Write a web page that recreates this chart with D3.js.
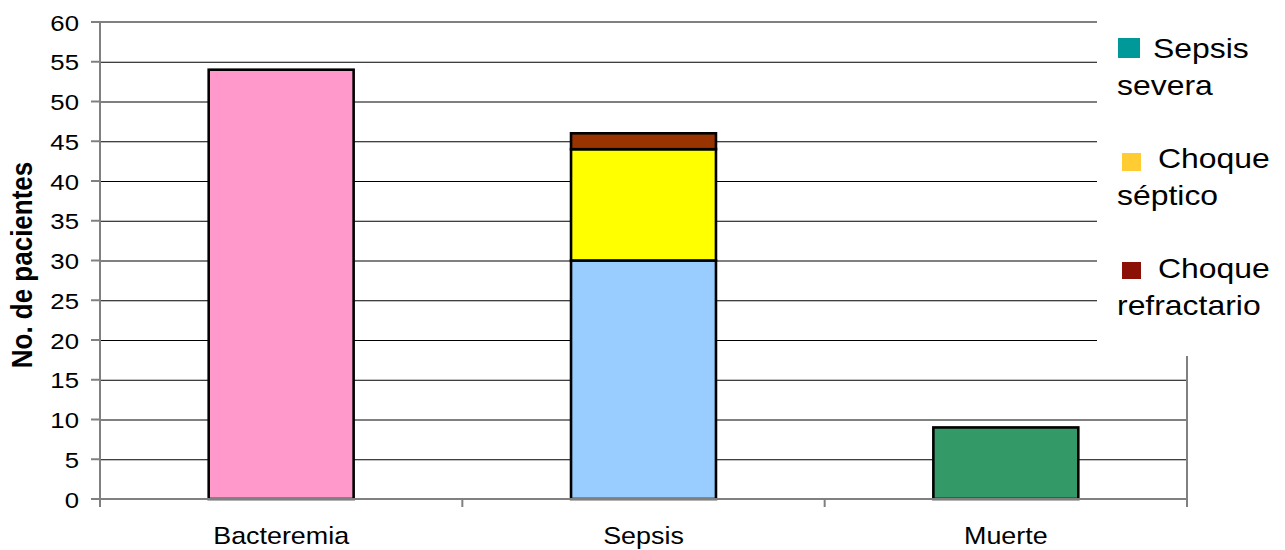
<!DOCTYPE html>
<html><head><meta charset="utf-8">
<script src="https://cdn.jsdelivr.net/npm/d3@7"></script>
<style>html,body{margin:0;padding:0;background:#fff;}svg{display:block;font-family:"Liberation Sans",Arial,sans-serif;}</style>
</head><body>
<svg id="chart" width="1285" height="550"></svg>
<script>
// ---- data ----
const categories = ["Bacteremia", "Sepsis", "Muerte"];
const baseValues = [54, 30, 9];
const septicValues = [0, 14, 0];
const refractoryValues = [0, 2, 0];
const baseColors = ["#FF99CC", "#99CCFF", "#339966"];
const yTicks = [0, 5, 10, 15, 20, 25, 30, 35, 40, 45, 50, 55, 60];
const legendLabels = [["Sepsis", "severa"], ["Choque", "séptico"], ["Choque", "refractario"]];
const legendColors = ["#009999", "#FFCC33", "#8B1005"];
const yTitle = "No. de pacientes";

(function () {
const SX = 1.12; // horizontal stretch of the original picture
const svg = d3.select("#chart");
const pLeft = 100, pRight = 1187, pTop = 22, pBottom = 499;

const x = d3.scaleBand().domain(categories).range([pLeft, pRight]).paddingInner(0.6).paddingOuter(0.3);
const y = d3.scaleLinear().domain([0, 60]).range([pBottom, pTop]);

// gridlines
svg.append("g").selectAll("line").data(yTicks.filter(d => d > 0 && d < 60)).join("line")
  .attr("x1", pLeft).attr("x2", pRight).attr("y1", d => y(d) + 0.5).attr("y2", d => y(d) + 0.5)
  .attr("stroke", "#000").attr("stroke-width", 1);

// plot border (top & right)
svg.append("line").attr("x1", pLeft).attr("x2", pRight).attr("y1", y(60)).attr("y2", y(60)).attr("stroke", "#808080").attr("stroke-width", 2);
svg.append("line").attr("x1", pRight).attr("x2", pRight).attr("y1", y(60)).attr("y2", pBottom).attr("stroke", "#808080").attr("stroke-width", 2);

// stacked bars
const rows = categories.map((c, i) => ({cat: c, base: baseValues[i], septic: septicValues[i], refractory: refractoryValues[i], color: baseColors[i]}));
const stack = d3.stack().keys(["base", "septic", "refractory"])(rows);
const segColors = {septic: "#FFFF00", refractory: "#993300"};
stack.forEach(layer => {
  svg.append("g").selectAll("rect").data(layer.filter(d => d[1] > d[0])).join("rect")
    .attr("x", d => x(d.data.cat))
    .attr("width", x.bandwidth())
    .attr("y", d => y(d[1]))
    .attr("height", d => y(d[0]) - y(d[1]))
    .attr("fill", d => layer.key === "base" ? d.data.color : segColors[layer.key])
    .attr("stroke", "#000").attr("stroke-width", 2.6);
});

// y axis
svg.append("line").attr("x1", pLeft).attr("x2", pLeft).attr("y1", pTop).attr("y2", pBottom + 8).attr("stroke", "#808080").attr("stroke-width", 2);
svg.append("g").selectAll("line").data(yTicks).join("line")
  .attr("x1", pLeft - 9).attr("x2", pLeft).attr("y1", d => y(d)).attr("y2", d => y(d))
  .attr("stroke", "#808080").attr("stroke-width", 2);
svg.append("g").selectAll("text").data(yTicks).join("text")
  .attr("transform", d => `translate(79,${y(d) + 8.5}) scale(${SX},1)`)
  .attr("text-anchor", "end").attr("font-size", 23).attr("fill", "#000")
  .text(d => d);

// x axis
svg.append("line").attr("x1", pLeft).attr("x2", pRight).attr("y1", pBottom).attr("y2", pBottom).attr("stroke", "#808080").attr("stroke-width", 2);
const gap = (x.step() - x.bandwidth()) / 2;
const xTickPos = categories.map(c => x(c) - gap).concat([x(categories[categories.length - 1]) + x.bandwidth() + gap]);
svg.append("g").selectAll("line").data(xTickPos).join("line")
  .attr("x1", d => d).attr("x2", d => d).attr("y1", pBottom).attr("y2", pBottom + 8)
  .attr("stroke", "#808080").attr("stroke-width", 2);
svg.append("g").selectAll("text").data(categories).join("text")
  .attr("transform", d => `translate(${x(d) + x.bandwidth() / 2},544) scale(${SX},1)`)
  .attr("text-anchor", "middle").attr("font-size", 24).attr("fill", "#000")
  .text(d => d);

// y title
svg.append("text")
  .attr("transform", `translate(32,265) scale(${SX},1) rotate(-90)`)
  .attr("text-anchor", "middle").attr("font-size", 26).attr("font-weight", "bold").attr("fill", "#000")
  .text(yTitle);

// legend
svg.append("rect").attr("x", 1097).attr("y", 0).attr("width", 188).attr("height", 356).attr("fill", "#fff");
const legY = [58, 168, 278];
const sq = [{x: 1118, y: 38, w: 22, h: 20}, {x: 1122, y: 153, w: 19, h: 18}, {x: 1122, y: 262, w: 19, h: 17}];
const firstX = [1153, 1158, 1158];
const lg = svg.append("g").selectAll("g").data(legendLabels).join("g");
lg.append("rect").attr("x", (d, i) => sq[i].x).attr("y", (d, i) => sq[i].y)
  .attr("width", (d, i) => sq[i].w).attr("height", (d, i) => sq[i].h)
  .attr("fill", (d, i) => legendColors[i]);
lg.append("text").attr("transform", (d, i) => `translate(${firstX[i]},${legY[i]}) scale(${SX},1)`)
  .attr("font-size", 28.5).attr("fill", "#000").text(d => d[0]);
lg.append("text").attr("transform", (d, i) => `translate(1117,${legY[i] + 36.5}) scale(${SX},1)`)
  .attr("font-size", 28.5).attr("fill", "#000").text(d => d[1]);
})();
</script>
</body></html>
